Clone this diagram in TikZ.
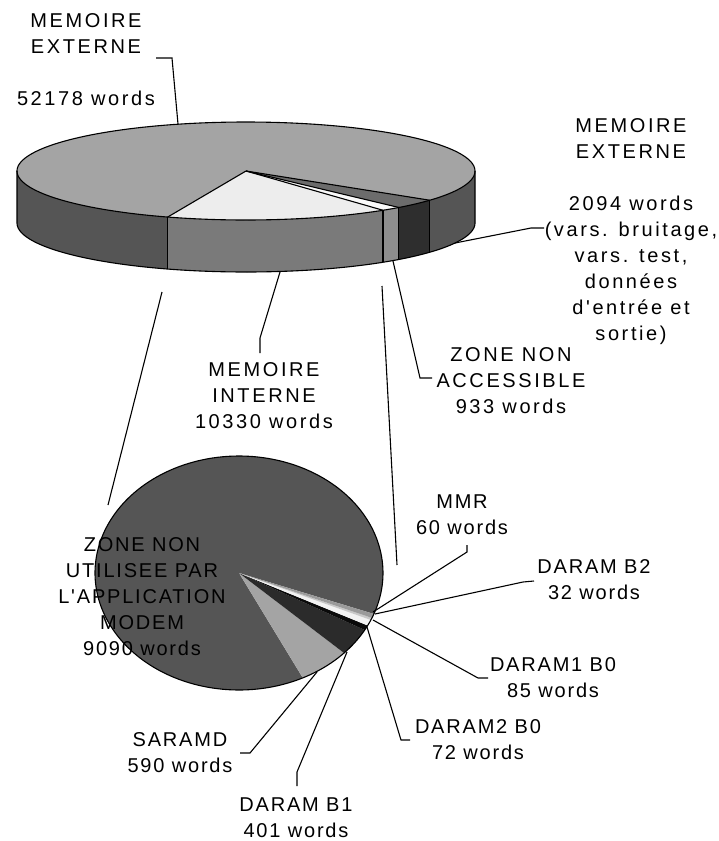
\documentclass[tikz,border=0pt]{standalone}
\usepackage{fontspec}
\newfontfamily\lblfont[LetterSpace=9]{Liberation Sans}
\newfontfamily\widelblfont[LetterSpace=13]{Liberation Sans}

% slice colours, upper (3D) pie
\definecolor{extTop}{HTML}{A4A4A4}
\definecolor{extSide}{HTML}{555555}
\definecolor{intTop}{HTML}{EDEDED}
\definecolor{intSide}{HTML}{7A7A7A}
\definecolor{znaTop}{HTML}{FAFAFA}
\definecolor{znaSide}{HTML}{8E8E8E}
\definecolor{extbTop}{HTML}{6C6C6C}
\definecolor{extbSide}{HTML}{2E2E2E}
% slice colours, lower pie
\definecolor{znuFill}{HTML}{555555}
\definecolor{saramdFill}{HTML}{A4A4A4}
\definecolor{bOneFill}{HTML}{2B2B2B}
\definecolor{dTwoFill}{HTML}{0A0A0A}
\definecolor{dOneFill}{HTML}{F2F2F2}
\definecolor{bTwoFill}{HTML}{C8C8C8}
\definecolor{mmrFill}{HTML}{9A9A9A}

% upper pie: centre (246,171), radii 229 x 49, thickness 52
\newcommand\topwedge[3]{%
  \fill[#1] (topC) -- plot[domain=#2:#3,samples=60,variable=\t]
    ({246+229*cos(\t)},{171+49*sin(\t)}) -- cycle;}
\newcommand\sideface[3]{%
  \fill[#1] plot[domain=#2:#3,samples=40,variable=\t]
    ({246+229*cos(\t)},{171+49*sin(\t)})
    -- plot[domain=#2:#3,samples=40,variable=\t]
    ({246+229*cos(#2+#3-\t)},{223+49*sin(#2+#3-\t)}) -- cycle;}
\newcommand\sideedge[1]{%
  \draw[pieline] ({246+229*cos(#1)},{171+49*sin(#1)})
    -- ({246+229*cos(#1)},{223+49*sin(#1)});}
\newcommand\topray[1]{%
  \draw[pieline] (topC) -- ({246+229*cos(#1)},{171+49*sin(#1)});}
% lower pie: centre (239,573), radii 144 x 117
\newcommand\lowwedge[3]{%
  \fill[#1] (lowC) -- plot[domain=#2:#3,samples=80,variable=\t]
    ({239+144*cos(\t)},{573+117*sin(\t)}) -- cycle;}

\begin{document}
\begin{tikzpicture}[x=1pt,y=-1pt,
  pieline/.style={draw=black,line width=1.1pt,line join=round},
  leader/.style={draw=black,line width=1.1pt,line join=miter},
  lbl/.style={font=\lblfont\fontsize{20}{26}\selectfont,align=center,
    inner sep=0pt,text=black},
  widelbl/.style={lbl,font=\widelblfont\fontsize{20}{26}\selectfont}]
\useasboundingbox (0,0) rectangle (719,841);

\coordinate (topC) at (246,171);
\coordinate (lowC) at (239,573);

% ---------- upper pie: side faces ----------
\sideface{extSide}{110}{180}
\sideface{intSide}{53.25}{110}
\sideface{znaSide}{48.12}{53.25}
\sideface{extbSide}{36.62}{48.12}
\sideface{extSide}{0}{36.62}
% ---------- upper pie: top faces ----------
\topwedge{extTop}{110}{396.62}
\topwedge{intTop}{53.25}{110}
\topwedge{znaTop}{48.12}{53.25}
\topwedge{extbTop}{36.62}{48.12}
% ---------- upper pie: outlines ----------
\draw[pieline] plot[domain=0:360,samples=180,variable=\t]
  ({246+229*cos(\t)},{171+49*sin(\t)}) -- cycle;
\draw[pieline] (17,171) -- (17,223)
  -- plot[domain=180:0,samples=120,variable=\t]
  ({246+229*cos(\t)},{223+49*sin(\t)}) -- (475,171);
\sideedge{110}
\sideedge{53.25}
\sideedge{48.12}
\sideedge{36.62}
\topray{110}
\topray{53.25}
\topray{48.12}
\topray{36.62}

% ---------- lower pie ----------
\lowwedge{znuFill}{63.7}{380.49}
\lowwedge{saramdFill}{43.14}{63.7}
\lowwedge{bOneFill}{29.17}{43.14}
\lowwedge{dTwoFill}{26.66}{29.17}
\lowwedge{dOneFill}{23.70}{26.66}
\lowwedge{bTwoFill}{22.58}{23.70}
\lowwedge{mmrFill}{20.49}{22.58}
\draw[pieline] plot[domain=0:360,samples=180,variable=\t]
  ({239+144*cos(\t)},{573+117*sin(\t)}) -- cycle;

% ---------- lines joining the two pies ----------
\coordinate (jLa) at (162,292);
\coordinate (jLb) at (108,505);
\coordinate (jRa) at (382,286);
\coordinate (jRb) at (397,565);
\draw[leader] (jLa) -- (jLb);
\draw[leader] (jRa) -- (jRb);

% ---------- labels ----------
\node[widelbl] (extTopLbl) at (86,59.5) {MEMOIRE\\EXTERNE\\[26pt]52178 words};
\node[widelbl] (extRightLbl) at (631,232) {MEMOIRE\\EXTERNE\\[26pt]2094 words\\(vars. bruitage,\\vars. test,\\données\\d'entrée et\\sortie)};
\node[widelbl] (intLbl) at (264,395.5) {MEMOIRE\\INTERNE\\10330 words};
\node[widelbl] (znaLbl) at (511,381) {ZONE NON\\ACCESSIBLE\\933 words};
\node[lbl] (znuLbl) at (142,596.5) {ZONE NON\\UTILISEE PAR\\L'APPLICATION\\MODEM\\9090 words};
\node[lbl] (mmrLbl) at (462,514.5) {MMR\\60 words};
\node[lbl] (bTwoLbl) at (594,580) {DARAM B2\\32 words};
\node[lbl] (dOneLbl) at (553,678) {DARAM1 B0\\85 words};
\node[lbl] (dTwoLbl) at (478,740) {DARAM2 B0\\72 words};
\node[lbl] (bOneLbl) at (296,818) {DARAM B1\\401 words};
\node[lbl] (saramdLbl) at (180,753) {SARAMD\\590 words};

% ---------- leader lines ----------
\coordinate (eTa) at (156,58);
\coordinate (eTb) at (172,58);
\coordinate (eTc) at (178,124);
\draw[leader] (eTa) -- (eTb) -- (eTc);

\coordinate (eRa) at (544,228);
\coordinate (eRb) at (531,228);
\coordinate (eRc) at (455,243);
\draw[leader] (eRa) -- (eRb) -- (eRc);

\coordinate (inA) at (260,353);
\coordinate (inB) at (260,338);
\coordinate (inC) at (280,272);
\draw[leader] (inA) -- (inB) -- (inC);

\coordinate (zaA) at (432,378);
\coordinate (zaB) at (420,378);
\coordinate (zaC) at (393,261);
\draw[leader] (zaA) -- (zaB) -- (zaC);

\coordinate (mmA) at (467,545);
\coordinate (mmB) at (467,552);
\coordinate (mmC) at (373,612);
\draw[leader] (mmA) -- (mmB) -- (mmC);

\coordinate (b2A) at (534,581);
\coordinate (b2B) at (523,582);
\coordinate (b2C) at (375,614);
\draw[leader] (b2A) -- (b2B) -- (b2C);

\coordinate (d1A) at (488,678);
\coordinate (d1B) at (478,678);
\coordinate (d1C) at (373,620);
\draw[leader] (d1A) -- (d1B) -- (d1C);

\coordinate (d2A) at (410,740);
\coordinate (d2B) at (401,740);
\coordinate (d2C) at (367,627);
\draw[leader] (d2A) -- (d2B) -- (d2C);

\coordinate (b1A) at (297,786);
\coordinate (b1B) at (297,772);
\coordinate (b1C) at (347,652);
\draw[leader] (b1A) -- (b1B) -- (b1C);

\coordinate (saA) at (240,753);
\coordinate (saB) at (250,753);
\coordinate (saC) at (317,672);
\draw[leader] (saA) -- (saB) -- (saC);
\end{tikzpicture}
\end{document}
